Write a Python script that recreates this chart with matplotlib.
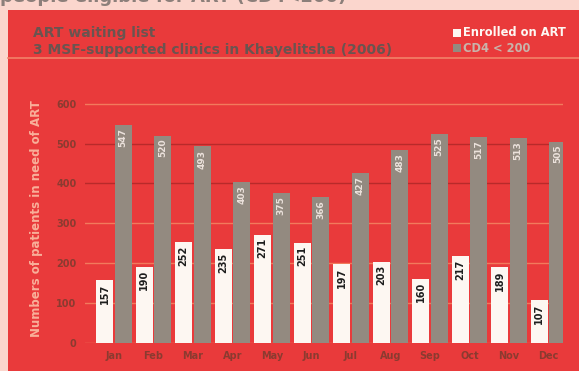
import matplotlib
matplotlib.use('Agg')
import matplotlib.pyplot as plt
from matplotlib.patches import Rectangle
import numpy as np

months = ['Jan', 'Feb', 'Mar', 'Apr', 'May', 'Jun',
          'Jul', 'Aug', 'Sep', 'Oct', 'Nov', 'Dec']
enrolled = [157, 190, 252, 235, 271, 251, 197, 203, 160, 217, 189, 107]
cd4_below_200 = [547, 520, 493, 403, 375, 366, 427, 483, 525, 517, 513, 505]
yticks = [0, 100, 200, 300, 400, 500, 600]

PINK = '#fbd6cd'
RED = '#e93a3b'
WHITE_BAR = '#fdf7f2'
GREY_BAR = '#938a80'
TXT_DARK = '#6a5450'

fig = plt.figure(figsize=(5.79, 3.71), dpi=100, facecolor=PINK)

# background axes holding the red panel
bg = fig.add_axes([0, 0, 1, 1], zorder=-1)
bg.set_xlim(0, 579)
bg.set_ylim(371, 0)
bg.axis('off')
bg.add_patch(Rectangle((8, 10), 571, 361, facecolor=RED, edgecolor='none'))
bg.plot([8, 579], [58, 58], color='#f28268', lw=1.2)

# cut-off heading at the very top
fig.text(0.0, 1 - 2 / 371, 'people eligible for ART (CD4<200)',
         fontsize=13, fontweight='bold', color='#8c7f7a',
         ha='left', va='baseline')

fig.text(33 / 579, 1 - 33 / 371, 'ART waiting list', fontsize=10,
         fontweight='bold', color=TXT_DARK, ha='left', va='center')
fig.text(33 / 579, 1 - 50 / 371,
         '3 MSF-supported clinics in Khayelitsha (2006)', fontsize=10,
         fontweight='bold', color=TXT_DARK, ha='left', va='center')

# legend drawn by hand
for i, (lab, fc, tc) in enumerate([('Enrolled on ART', WHITE_BAR, WHITE_BAR),
                                    ('CD4 < 200', GREY_BAR, '#c9b3aa')]):
    yy = 33 + 15 * i
    bg.add_patch(Rectangle((453, yy - 4), 8, 8, facecolor=fc,
                           edgecolor='none'))
    bg.text(463, yy, lab, fontsize=8.3, fontweight='bold', color=tc,
            ha='left', va='center')

ax = fig.add_axes([85 / 579, (371 - 342.7) / 371,
                   (563 - 85) / 579, 247.7 / 371], zorder=2)
ax.set_facecolor('none')

x = np.arange(len(months))
w = 0.43
off = 0.235
b1 = ax.bar(x - off, enrolled, w, color=WHITE_BAR, zorder=3)
b2 = ax.bar(x + off, cd4_below_200, w, color=GREY_BAR, zorder=3)

for rect, v in zip(b1, enrolled):
    ax.text(rect.get_x() + rect.get_width() / 2, v - 8, str(v),
            rotation=90, ha='center', va='top', fontsize=7,
            fontweight='bold', color='#1e1e1e', zorder=4)
for rect, v in zip(b2, cd4_below_200):
    ax.text(rect.get_x() + rect.get_width() / 2, v - 8, str(v),
            rotation=90, ha='center', va='top', fontsize=6.5,
            fontweight='bold', color='#ece2dc', zorder=4)

# grid lines, a couple of them darker like in the print
for t in yticks:
    c = '#b82a2a' if t in (400, 500) else '#f27a5c'
    ax.axhline(t, color=c, lw=1.0, zorder=1)

ax.set_xlim(-0.73, 11.37)
ax.set_ylim(0, 622)
ax.set_yticks(yticks)
ax.set_yticklabels([str(t) for t in yticks], fontsize=7, fontweight='bold',
                   color='#8b3a30')
ax.set_xticks(x)
ax.set_xticklabels(months, fontsize=7, fontweight='bold', color='#8b3a30')
ax.tick_params(length=0, pad=6)
for s in ax.spines.values():
    s.set_visible(False)

ax.set_ylabel('Numbers of patients in need of ART', fontsize=8.5,
              fontweight='bold', color='#f9b09a', labelpad=10)

plt.savefig('out.png', dpi=100, facecolor=PINK)
